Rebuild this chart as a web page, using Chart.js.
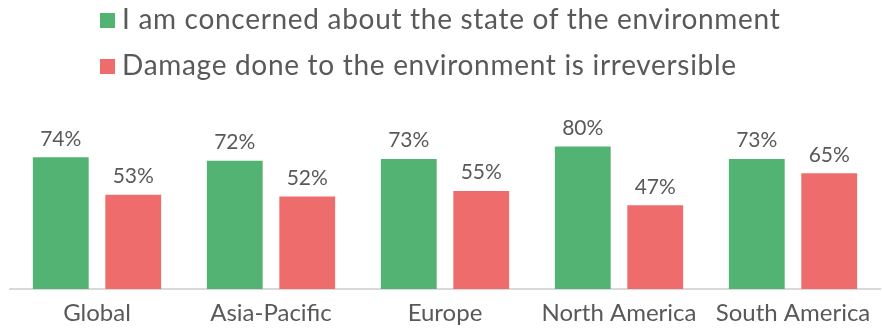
<!DOCTYPE html>
<html>
<head>
<meta charset="utf-8">
<script src="https://cdn.jsdelivr.net/npm/chart.js@4.4.0/dist/chart.umd.min.js"></script>
<style>
    html, body { margin: 0; padding: 0; background: #fff; }
    #wrap { position: relative; width: 882px; height: 329px; }
    #legend { position: absolute; left: 100px; top: 0; font-family: 'Lato', sans-serif; font-size: 28px; color: #595959; letter-spacing: 0.7px; }
    #legend div { height: 46px; line-height: 36px; white-space: nowrap; }
    #legend span.box { display: inline-block; width: 15px; height: 15px; margin-right: 7px; vertical-align: 1px; }
</style>
</head>
<body>
<div id="wrap">
    <canvas id="chart-env" width="882" height="329"></canvas>
    <div id="legend"></div>
</div>
<script>
const regions = ['Global', 'Asia-Pacific', 'Europe', 'North America', 'South America'];
const concerned = [74, 72, 73, 80, 73];
const irreversible = [53, 52, 55, 47, 65];
const seriesNames = ['I am concerned about the state of the environment', 'Damage done to the environment is irreversible'];
const seriesColors = ['#52b373', '#ee6d6c'];

// legend rows, left aligned
const legendEl = document.getElementById('legend');
seriesNames.forEach(function (name, i) {
    const row = document.createElement('div');
    row.innerHTML = '<span class="box" style="background:' + seriesColors[i] + '"></span>' + name;
    legendEl.appendChild(row);
});

// percent labels above each bar
const valueLabels = {
    id: 'valueLabels',
    afterDatasetsDraw(chart) {
        const ctx = chart.ctx;
        ctx.save();
        ctx.font = '21px Lato, sans-serif';
        ctx.fillStyle = '#595959';
        ctx.textAlign = 'center';
        ctx.textBaseline = 'bottom';
        chart.data.datasets.forEach(function (ds, i) {
            chart.getDatasetMeta(i).data.forEach(function (bar, j) {
                ctx.fillText(ds.data[j] + '%', bar.x, bar.y - 8);
            });
        });
        ctx.restore();
    }
};

new Chart(document.getElementById('chart-env'), {
    type: 'bar',
    data: {
        labels: regions,
        datasets: [{
            label: seriesNames[0],
            data: concerned,
            backgroundColor: seriesColors[0],
            categoryPercentage: 0.833,
            barPercentage: 0.77
        }, {
            label: seriesNames[1],
            data: irreversible,
            backgroundColor: seriesColors[1],
            categoryPercentage: 0.833,
            barPercentage: 0.77
        }]
    },
    options: {
        responsive: false,
        animation: false,
        layout: {
            padding: { top: 111, left: 10, right: 2, bottom: 0 }
        },
        scales: {
            x: {
                grid: { display: false },
                border: { color: '#d9d9d9', width: 2 },
                ticks: {
                    color: '#595959',
                    font: { family: 'Lato', size: 24, lineHeight: 1 },
                    padding: 4
                }
            },
            y: {
                display: false,
                min: 0,
                max: 100
            }
        },
        plugins: {
            legend: { display: false },
            tooltip: { enabled: false }
        }
    },
    plugins: [valueLabels]
});
</script>
</body>
</html>
